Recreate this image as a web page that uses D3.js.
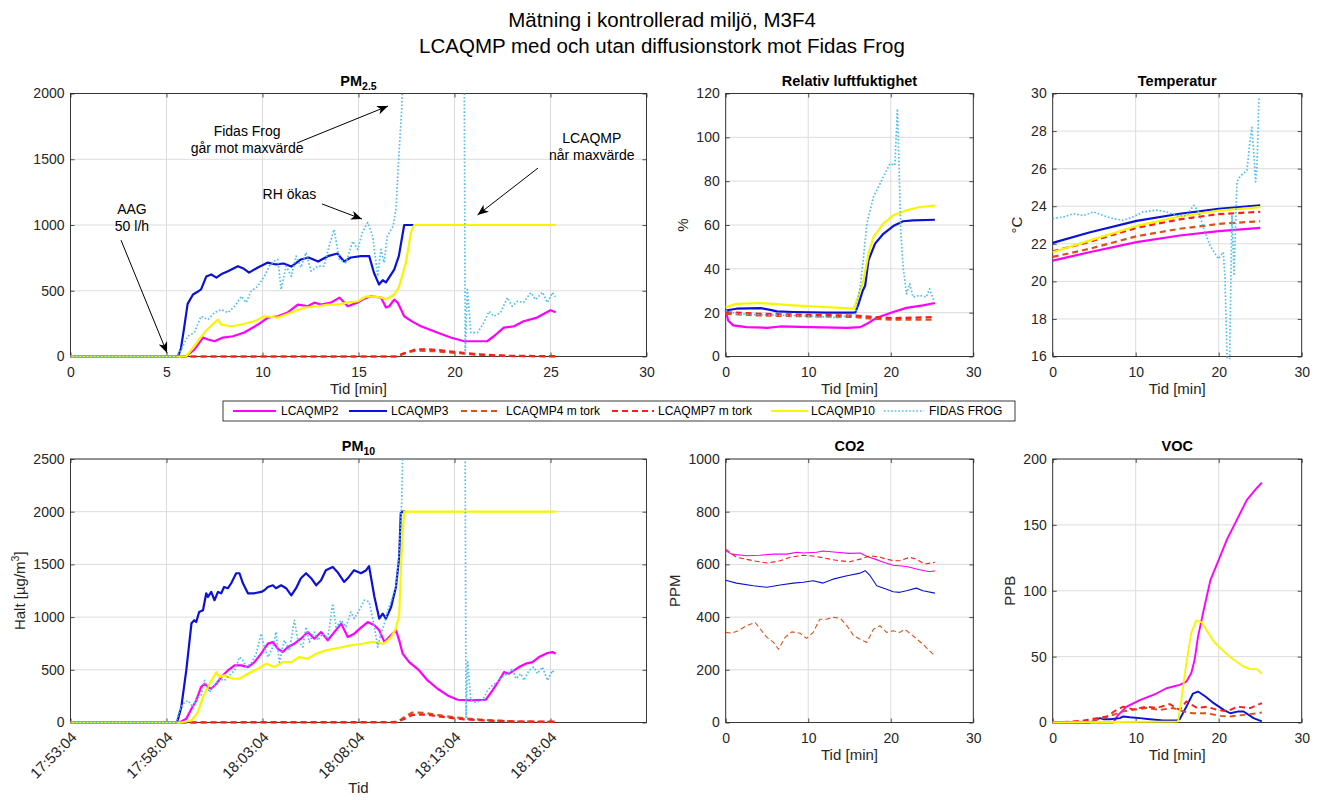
<!DOCTYPE html>
<html>
<head>
<meta charset="utf-8">
<script src="https://cdn.jsdelivr.net/npm/d3@7"></script>
<style>
  body { margin: 0; background: #fff; }
  text { font-family: "Liberation Sans", Arial, Helvetica, sans-serif; }
</style>
</head>
<body>
<svg id="fig" width="1325" height="800"></svg>
<script>
// ---- series definitions (legend order) ----
const seriesNames  = ["LCAQMP2", "LCAQMP3", "LCAQMP4 m tork", "LCAQMP7 m tork", "LCAQMP10", "FIDAS FROG"];
const seriesColors = ["#ff00ff", "#0b12d6", "#d95319", "#ff1c1c", "#f6f600", "#4dbeee"];
const seriesDash   = [null, null, "6,4", "6,4", null, "1.6,2"];

// ---- tick values ----
const minuteTicks5  = [0, 5, 10, 15, 20, 25, 30];
const minuteTicks10 = [0, 10, 20, 30];
const pm25Ticks = [0, 500, 1000, 1500, 2000];
const pm10Ticks = [0, 500, 1000, 1500, 2000, 2500];
const rhTicks   = [0, 20, 40, 60, 80, 100, 120];
const tempTicks = [16, 18, 20, 22, 24, 26, 28, 30];
const co2Ticks  = [0, 200, 400, 600, 800, 1000];
const vocTicks  = [0, 50, 100, 150, 200];
const pm10TimeTicks  = [0, 5, 10, 15, 20, 25];
const pm10TimeLabels = ["17:53:04", "17:58:04", "18:03:04", "18:08:04", "18:13:04", "18:18:04"];

// ---- PM2.5 [min, µg/m³] ----
const pm25_q2 = [[0,0],[6.0,0],[6.45,53],[6.9,144],[7.16,129],[7.5,116],[7.94,144],[8.46,154],[9.05,182],[9.76,243],[10.28,296],[10.8,306],[11.3,334],[11.84,395],[12.36,382],[12.7,410],[13.05,395],[13.57,410],[14.0,448],[14.44,382],[14.96,410],[15.3,440],[15.65,458],[16.17,448],[16.43,372],[16.6,382],[16.86,433],[17.04,410],[17.38,306],[17.8,265],[18.25,230],[19.1,182],[19.8,144],[20.5,116],[21.7,116],[22.05,154],[22.57,220],[23.1,230],[23.6,268],[24.3,296],[25.0,352],[25.27,337]];
const pm25_q3 = [[0,0],[5.6,0],[5.75,60],[5.9,200],[6.1,400],[6.38,471],[6.6,490],[6.8,510],[7.07,608],[7.33,624],[7.6,600],[7.9,630],[8.2,649],[8.72,687],[9.0,670],[9.3,638],[9.76,677],[10.28,714],[10.7,700],[11.1,707],[11.5,684],[12.0,738],[12.4,753],[12.9,722],[13.4,763],[13.9,783],[14.25,722],[14.6,753],[15.13,763],[15.56,763],[15.8,639],[16.07,547],[16.26,580],[16.43,563],[16.86,661],[17.1,763],[17.38,1000],[17.95,1000]];
const pm25_q4 = [[0,0],[17.0,0],[17.5,30],[18.0,45],[19.0,40],[20.0,28],[21.0,15],[22.0,8],[23.0,3],[25.3,0]];
const pm25_q7 = [[0,0],[17.0,0],[17.3,20],[18.0,55],[18.6,55],[19.2,48],[20.0,35],[21.0,20],[22.0,10],[23.0,5],[25.3,3]];
const pm25_q10 = [[0,0],[6.0,0],[6.1,15],[6.45,78],[6.97,182],[7.5,258],[7.67,281],[7.85,243],[8.37,230],[8.9,243],[9.57,268],[10.1,306],[10.8,296],[11.5,334],[12.17,372],[12.88,382],[13.4,395],[13.9,395],[14.44,410],[14.96,420],[15.4,456],[15.8,456],[16.2,448],[16.43,433],[16.86,471],[17.1,524],[17.47,714],[17.73,942],[17.9,1000],[25.3,1000]];
const pm25_fidas = [[0,0],[5.5,0],[5.77,53],[6.1,154],[6.45,182],[6.8,306],[7.16,281],[7.5,334],[7.85,357],[8.2,334],[8.55,382],[8.9,458],[9.15,410],[9.4,496],[9.76,534],[10.1,610],[10.35,687],[10.6,725],[10.8,738],[10.97,509],[11.23,687],[11.5,610],[11.75,763],[12.0,677],[12.27,791],[12.53,649],[12.88,687],[13.2,687],[13.47,839],[13.73,966],[14.0,738],[14.35,714],[14.7,877],[14.96,814],[15.2,943],[15.48,1019],[15.74,915],[16.0,610],[16.17,814],[16.33,714],[16.5,915],[16.8,991],[16.95,1118],[17.1,1523],[17.25,1878],[17.35,2400],[17.5,3000],[20.4,3000],[20.5,2500],[20.56,20],[20.62,300],[20.67,510],[20.85,182],[21.2,182],[21.53,258],[21.8,344],[22.05,306],[22.4,334],[22.76,448],[23.0,382],[23.28,420],[23.6,410],[23.97,486],[24.23,433],[24.58,489],[24.84,410],[25.1,486],[25.25,455]];

// ---- PM10 [min, µg/m³] ----
const pm10_q2 = [[0,0],[5.68,0],[6.03,35],[6.3,130],[6.55,209],[6.8,336],[6.98,368],[7.16,336],[7.33,320],[7.6,368],[7.85,431],[8.2,494],[8.55,542],[8.9,542],[9.24,526],[9.58,573],[9.93,653],[10.28,748],[10.54,763],[10.8,700],[11.06,668],[11.32,716],[11.66,748],[12.0,795],[12.36,858],[12.7,795],[13.05,858],[13.4,780],[13.74,858],[14.1,938],[14.44,811],[14.78,843],[15.13,900],[15.48,953],[15.83,922],[16.08,875],[16.35,763],[16.6,811],[16.95,875],[17.12,780],[17.3,653],[17.64,573],[18.16,494],[18.6,399],[19.12,320],[19.64,257],[20.16,216],[20.85,209],[21.63,216],[21.98,304],[22.32,399],[22.58,478],[22.84,463],[23.1,494],[23.36,526],[23.71,558],[24.06,573],[24.4,621],[24.84,659],[25.1,668],[25.27,653]];
const pm10_q3 = [[0,0],[5.55,0],[5.77,145],[6.03,494],[6.3,941],[6.45,970],[6.55,953],[6.7,1048],[6.9,1065],[7.07,1226],[7.16,1191],[7.33,1239],[7.5,1160],[7.68,1239],[7.85,1226],[8.0,1286],[8.2,1274],[8.37,1321],[8.63,1416],[8.8,1416],[8.98,1321],[9.24,1226],[9.57,1226],[9.93,1239],[10.1,1255],[10.28,1286],[10.54,1302],[10.7,1274],[10.97,1302],[11.23,1274],[11.5,1207],[11.75,1274],[12.0,1369],[12.27,1416],[12.53,1369],[12.8,1302],[13.05,1350],[13.3,1445],[13.66,1476],[13.9,1429],[14.25,1334],[14.5,1381],[14.77,1445],[15.13,1416],[15.4,1445],[15.55,1483],[15.83,1191],[16.08,986],[16.26,1033],[16.43,986],[16.7,1096],[16.95,1286],[17.12,1571],[17.2,1984],[17.3,2000],[17.45,2000]];
const pm10_q4 = [[0,0],[17.0,0],[17.3,40],[17.8,95],[18.5,90],[19.5,60],[20.5,40],[21.5,25],[23.0,10],[25.3,5]];
const pm10_q7 = [[0,0],[17.0,5],[17.4,35],[17.8,72],[18.5,75],[19.5,50],[20.5,30],[21.5,20],[23.0,10],[25.3,8]];
const pm10_q10 = [[0,0],[5.77,0],[6.3,19],[6.64,98],[6.9,241],[7.24,368],[7.6,478],[7.76,431],[8.02,447],[8.46,415],[8.8,415],[9.24,463],[9.76,510],[10.2,558],[10.62,526],[11.06,573],[11.5,573],[11.92,621],[12.36,605],[12.8,653],[13.3,684],[13.74,700],[14.18,716],[14.6,732],[15.13,745],[15.65,763],[15.83,763],[16.26,748],[16.43,763],[16.7,811],[16.95,891],[17.12,1017],[17.21,1476],[17.3,1794],[17.38,2000],[25.3,2000]];
const pm10_fidas = [[0,0],[5.5,0],[5.68,114],[5.86,178],[6.12,209],[6.38,145],[6.55,225],[6.8,257],[6.98,399],[7.24,288],[7.5,352],[7.76,415],[8.02,399],[8.28,447],[8.55,494],[8.8,621],[8.98,589],[9.15,526],[9.41,558],[9.67,653],[9.93,843],[10.1,716],[10.28,621],[10.54,716],[10.7,858],[10.88,573],[11.14,780],[11.4,684],[11.66,970],[11.84,780],[12.1,716],[12.27,906],[12.44,763],[12.7,858],[12.88,780],[13.14,843],[13.4,795],[13.66,1128],[13.83,906],[14.1,970],[14.35,906],[14.6,1048],[14.78,986],[15.04,1065],[15.3,1160],[15.56,1144],[15.83,906],[16.0,716],[16.17,843],[16.35,938],[16.52,1065],[16.7,1150],[16.95,1300],[17.12,1600],[17.25,2100],[17.35,3000],[20.45,3000],[20.55,2800],[20.6,50],[20.65,400],[20.68,589],[20.85,209],[21.1,193],[21.46,209],[21.72,304],[21.98,352],[22.24,383],[22.5,431],[22.76,463],[23.02,510],[23.2,415],[23.45,463],[23.62,399],[23.88,494],[24.14,526],[24.32,463],[24.58,526],[24.84,399],[25.1,494],[25.2,463]];

// ---- relative humidity [min, %] ----
const rh_q2 = [[0,21],[0.3,16.4],[0.9,14.2],[2.5,13.4],[5,13.1],[6.6,13.7],[10.2,13.4],[14.7,13.1],[16.3,13.4],[17.1,14.9],[18.3,17.7],[20.3,20.3],[21.9,22.2],[23.9,23.3],[25.35,24.4]];
const rh_q3 = [[0,21],[1.3,21.8],[4.2,22.1],[5.4,21.3],[6.2,20.6],[8.2,20.3],[12.2,20],[15.7,20],[16.1,24],[16.6,30],[16.9,32.4],[17.3,43.9],[18.1,51.5],[19.1,56],[20.3,59.5],[21.5,61.7],[22.7,62.1],[25.35,62.4]];
const rh_q4 = [[0,19.5],[4.2,18.7],[10.2,18.3],[15.5,18],[17.9,17.2],[20.3,16.8],[25.2,16.8]];
const rh_q7 = [[0,20.3],[4.2,19.5],[10.2,19],[15.5,18.7],[17.9,18],[20.3,17.5],[25.2,18]];
const rh_q10 = [[0,22.5],[1.3,24],[4.2,24.4],[8.2,23.3],[12.2,22.5],[15.5,21.8],[15.9,25.6],[16.7,34.7],[17.3,46.9],[17.9,54.5],[19.1,60.6],[20.3,64.4],[21.9,66.7],[23.5,68.2],[25.35,68.8]];
const rh_fidas = [[0,21],[1.3,19.5],[4.2,19],[8.2,18.7],[12.2,18],[13.8,17.7],[15.7,19.5],[16.3,31.7],[16.7,45.4],[17.1,60.6],[17.9,72.8],[19.1,81.9],[19.9,88],[20.5,87.3],[20.8,113],[21.0,88],[21.2,57.6],[21.5,40.8],[21.9,28.6],[22.3,33.2],[22.7,27.1],[23.5,27.9],[24.3,27.1],[24.7,30.9],[25.2,25.6]];

// ---- temperature [min, °C] ----
const temp_q2 = [[0,21.1],[4.4,21.55],[10.1,22.09],[15.3,22.44],[20,22.67],[25,22.85]];
const temp_q3 = [[0,22.05],[4.4,22.6],[10.1,23.22],[15.3,23.6],[20,23.86],[25,24.05]];
const temp_q4 = [[0,21.3],[4.4,21.73],[10.1,22.4],[15.3,22.8],[20,23.06],[25,23.2]];
const temp_q7 = [[0,21.6],[4.4,22.1],[10.1,22.85],[15.3,23.3],[20,23.58],[25,23.7]];
const temp_q10 = [[0,21.55],[4.4,22.17],[10.1,22.95],[15.3,23.45],[20,23.77],[25,23.95]];
const temp_fidas = [[0,23.34],[1.3,23.43],[2.5,23.6],[3.7,23.5],[4.9,23.7],[6.1,23.5],[7.3,23.34],[8.5,23.25],[9.7,23.43],[10.9,23.7],[12.5,23.79],[13.7,23.7],[14.9,23.5],[16.1,23.5],[17.0,24.05],[17.6,23.7],[18.2,22.8],[18.95,21.9],[19.96,21.2],[20.56,21.55],[20.76,20.1],[21.04,15.5],[21.3,15.5],[21.6,23.6],[21.85,20.3],[22.2,25.3],[22.6,25.6],[23.4,25.9],[23.8,27.6],[24.0,28.2],[24.2,27.0],[24.45,25.3],[24.6,26.0],[24.85,29.8]];

// ---- CO2 [min, ppm] ----
const co2_q2 = [[0,652],[0.7,639],[2.5,633],[4.2,635],[5.8,639],[7.4,639],[8.6,646],[9.4,643],[11,646],[11.8,651],[13.4,646],[15,642],[16.3,643],[17.1,630],[18.1,620],[19.1,608],[20.3,597],[21.9,592],[23.5,580],[24.7,572],[25.35,576]];
const co2_q3 = [[0,540],[1.3,529],[3.35,519],[5,513],[6.6,522],[8.2,529],[9.4,532],[10.6,538],[11.8,529],[13,544],[14.7,557],[16.3,567],[16.9,576],[17.5,557],[18.3,519],[19.5,506],[20.3,496],[21.1,494],[21.9,500],[23.1,510],[23.9,500],[25.35,491]];
const co2_q4 = [[0,342],[0.7,339],[1.5,348],[2.5,367],[3.55,380],[4.2,354],[5,323],[5.8,304],[6.4,278],[7.2,323],[8,344],[9,339],[9.8,319],[10.6,342],[11.4,392],[12.2,392],[13,399],[13.9,395],[14.7,367],[15.5,329],[16.3,316],[17.1,304],[17.9,354],[18.7,367],[19.5,342],[20.3,348],[21.1,342],[21.7,354],[22.7,329],[23.9,297],[24.7,272],[25.35,253]];
const co2_q7 = [[0,658],[1.3,627],[3.35,614],[5,605],[6.6,614],[7.8,627],[9.4,635],[11,630],[12.6,620],[13.8,614],[15,610],[16.3,620],[17.5,633],[18.7,627],[19.5,620],[20.3,614],[21.1,614],[22.3,627],[23.1,620],[24.1,601],[25.35,608]];

// ---- VOC [min, ppb] ----
const voc_q2 = [[0,0],[7.3,0],[7.9,5.8],[8.9,12],[10.5,17],[12.5,22],[13.7,26],[15.3,28.6],[16.1,31],[16.7,37.5],[17.1,47.6],[17.5,65],[18.2,85.6],[19.0,108],[20,123.5],[21,139],[22.2,154],[23.4,169],[24.6,178],[25.2,182]];
const voc_q3 = [[0,0],[4.5,0],[5.7,3.3],[6.1,2.5],[6.9,2.5],[8.1,3.3],[8.5,4.6],[9.3,4],[10.5,3.3],[11.7,2.5],[13.3,1.5],[14.9,1.5],[15.3,2.5],[16.1,12],[16.9,22],[17.5,23.5],[18.4,19.7],[19.4,14.7],[20.6,9.6],[21.4,7],[22.4,8.4],[23.0,8.4],[24.2,3.3],[25.2,0.8]];
const voc_q4 = [[0,0],[3.7,0.8],[5.7,2.5],[7.3,5.8],[8.5,8.4],[9.7,9.6],[11.3,11],[12.9,9.6],[14.5,11],[15.7,8.4],[16.9,7],[18.6,7],[20.2,5],[21.4,4.6],[23,5.8],[24.6,7],[25.2,7.6]];
const voc_q7 = [[0,0],[2.5,0.8],[3.7,1.5],[5.3,3.3],[6.5,4.6],[7.7,9.6],[8.5,12],[9.7,10],[11.3,12],[12.5,11],[14.1,14],[15.3,9.6],[16.1,16],[17.4,11],[18.6,12],[19.8,9.6],[21,8.4],[22.2,12],[23.8,11],[25.2,14.7]];
const voc_q10 = [[0,0],[15.1,0.8],[15.5,17],[16.1,45],[16.7,68],[17.3,77.5],[17.95,76],[18.55,70],[19.4,61.5],[20.6,54],[21.8,47.6],[23.0,42.5],[23.8,40.5],[24.6,40.5],[25.2,37]];

// ---- PM2.5 annotations (data coordinates) ----
const pm25Notes = [
  { lines: ["AAG", "50 l/h"], at: [3.2, 1122], from: [2.63, 885], to: [5.03, 27] },
  { lines: ["Fidas Frog", "går mot maxvärde"], at: [9.2, 1715], from: [11.8, 1624], to: [16.54, 1905] },
  { lines: ["RH ökas"], at: [11.4, 1236], from: [13.1, 1160], to: [15.18, 1045] },
  { lines: ["LCAQMP", "når maxvärde"], at: [27.15, 1662], from: [24.35, 1433], to: [21.2, 1076] }
];

const svg = d3.select("#fig");
const AX = "#262626";
const TICK_FONT = 14;

svg.append("defs").append("marker")
  .attr("id", "arrowhead").attr("markerUnits", "userSpaceOnUse")
  .attr("markerWidth", 12).attr("markerHeight", 9)
  .attr("refX", 11).attr("refY", 4.5).attr("orient", "auto")
  .append("path").attr("d", "M0,0 L11,4.5 L0,9 L3,4.5 Z").attr("fill", "#000");

// main title
svg.append("text").attr("x", 662).attr("y", 27).attr("text-anchor", "middle")
  .attr("font-size", 20.5).attr("fill", "#000").text("Mätning i kontrollerad miljö, M3F4");
svg.append("text").attr("x", 662).attr("y", 53).attr("text-anchor", "middle")
  .attr("font-size", 20.5).attr("fill", "#000").text("LCAQMP med och utan diffusionstork mot Fidas Frog");

function drawPanel(p) {
  const g = svg.append("g");
  const x = d3.scaleLinear().domain(p.xDomain).range([p.left, p.right]);
  const y = d3.scaleLinear().domain(p.yDomain).range([p.bottom, p.top]);

  // grid
  g.append("g").selectAll("line").data(p.xTicks).join("line")
    .attr("x1", d => x(d)).attr("x2", d => x(d)).attr("y1", p.top).attr("y2", p.bottom)
    .attr("stroke", "#dcdcdc").attr("stroke-width", 1);
  g.append("g").selectAll("line").data(p.yTicks).join("line")
    .attr("y1", d => y(d)).attr("y2", d => y(d)).attr("x1", p.left).attr("x2", p.right)
    .attr("stroke", "#dcdcdc").attr("stroke-width", 1);

  // axes (drawn below the data lines)
  const fmt = p.xFormat || (d => String(d));
  const xb = d3.axisBottom(x).tickValues(p.xTickValues || p.xTicks).tickSizeInner(-4).tickSizeOuter(0).tickPadding(11).tickFormat(fmt);
  const xa = g.append("g").attr("transform", `translate(0,${p.bottom})`).call(xb);
  const xt = g.append("g").attr("transform", `translate(0,${p.top})`)
    .call(d3.axisTop(x).tickValues(p.xTickValues || p.xTicks).tickSizeInner(-4).tickSizeOuter(0).tickFormat(""));
  const ya = g.append("g").attr("transform", `translate(${p.left},0)`)
    .call(d3.axisLeft(y).tickValues(p.yTicks).tickSizeInner(-4).tickSizeOuter(0).tickPadding(6).tickFormat(d => String(d)));
  const yr = g.append("g").attr("transform", `translate(${p.right},0)`)
    .call(d3.axisRight(y).tickValues(p.yTicks).tickSizeInner(-4).tickSizeOuter(0).tickFormat(""));
  [xa, xt, ya, yr].forEach(a => {
    a.select(".domain").remove();
    a.selectAll(".tick line").attr("stroke", AX).attr("stroke-width", 0.8);
    a.selectAll("text").attr("font-size", TICK_FONT).attr("fill", AX).attr("font-family", null);
  });
  if (p.rotateX) {
    xa.selectAll(".tick text")
      .attr("font-size", 15)
      .attr("text-anchor", "end").attr("dy", "0.35em").attr("y", 0)
      .attr("transform", "translate(3,12) rotate(-45)");
  }

  // box
  g.append("rect").attr("x", p.left).attr("y", p.top)
    .attr("width", p.right - p.left).attr("height", p.bottom - p.top)
    .attr("fill", "none").attr("stroke", AX).attr("stroke-width", 0.9);

  // clip: top edge is cut, lines lying on the zero axis stay fully visible
  const clipId = "clip-" + p.id;
  svg.append("clipPath").attr("id", clipId).append("rect")
    .attr("x", p.left - 2).attr("y", p.top).attr("width", p.right - p.left + 4).attr("height", p.bottom - p.top + 3);

  const line = d3.line().x(d => x(d[0])).y(d => y(d[1]));
  const lines = g.append("g").attr("clip-path", `url(#${clipId})`);
  p.series.forEach(([si, data]) => {
    const dashed = seriesDash[si] !== null;
    lines.append("path").attr("d", line(data)).attr("fill", "none")
      .attr("stroke", seriesColors[si])
      .attr("stroke-width", si === 5 ? p.dotWidth : p.lineWidth)
      .attr("stroke-dasharray", dashed ? (si === 5 ? "1.6,2" : p.dash) : null)
      .attr("stroke-linejoin", "round");
  });

  // title
  const cx = (p.left + p.right) / 2;
  const tt = g.append("text").attr("x", cx).attr("y", p.top - 8).attr("text-anchor", "middle")
    .attr("font-size", 14.5).attr("font-weight", "bold").attr("fill", "#000");
  tt.append("tspan").text(p.title);
  if (p.titleSub) tt.append("tspan").attr("dy", 4).attr("font-size", 10.5).text(p.titleSub);

  // x label
  g.append("text").attr("x", cx).attr("y", p.bottom + p.xLabelOffset).attr("text-anchor", "middle")
    .attr("font-size", 15).attr("fill", AX).text(p.xLabel);

  // y label
  const yl = g.append("text")
    .attr("transform", `translate(${p.left - p.yLabelOffset},${(p.top + p.bottom) / 2}) rotate(-90)`)
    .attr("text-anchor", "middle").attr("font-size", 15).attr("fill", AX);
  yl.append("tspan").text(p.yLabel);
  if (p.yLabelSup) {
    yl.append("tspan").attr("dy", -6).attr("font-size", 10.5).text(p.yLabelSup);
    yl.append("tspan").attr("dy", 6).text(p.yLabelTail);
  }
  return { x, y, g };
}

const top1 = 93.5, bot1 = 356.5, top2 = 459, bot2 = 722.5;
const c1 = [70.5, 646.5], c2 = [725.7, 973.3], c3 = [1052.7, 1301.7];

const pm25 = drawPanel({
  id: "pm25", left: c1[0], right: c1[1], top: top1, bottom: bot1,
  xDomain: [0, 30], yDomain: [0, 2000], xTicks: minuteTicks5, yTicks: pm25Ticks,
  title: "PM", titleSub: "2.5", xLabel: "Tid [min]", xLabelOffset: 37, yLabel: "", yLabelOffset: 0,
  lineWidth: 2.2, dotWidth: 1.7, dash: "6,4",
  series: [[0, pm25_q2], [1, pm25_q3], [2, pm25_q4], [3, pm25_q7], [4, pm25_q10], [5, pm25_fidas]]
});

drawPanel({
  id: "rh", left: c2[0], right: c2[1], top: top1, bottom: bot1,
  xDomain: [0, 30], yDomain: [0, 120], xTicks: minuteTicks10, yTicks: rhTicks,
  title: "Relativ luftfuktighet", xLabel: "Tid [min]", xLabelOffset: 37, yLabel: "%", yLabelOffset: 38,
  lineWidth: 2.2, dotWidth: 1.7, dash: "6,4",
  series: [[0, rh_q2], [1, rh_q3], [2, rh_q4], [3, rh_q7], [4, rh_q10], [5, rh_fidas]]
});

drawPanel({
  id: "temp", left: c3[0], right: c3[1], top: top1, bottom: bot1,
  xDomain: [0, 30], yDomain: [16, 30], xTicks: minuteTicks10, yTicks: tempTicks,
  title: "Temperatur", xLabel: "Tid [min]", xLabelOffset: 37, yLabel: "°C", yLabelOffset: 31,
  lineWidth: 2.2, dotWidth: 1.7, dash: "6,4",
  series: [[0, temp_q2], [1, temp_q3], [2, temp_q4], [3, temp_q7], [4, temp_q10], [5, temp_fidas]]
});

drawPanel({
  id: "pm10", left: c1[0], right: c1[1], top: top2, bottom: bot2,
  xDomain: [0, 30], yDomain: [0, 2500], xTicks: pm10TimeTicks, yTicks: pm10Ticks,
  xFormat: d => pm10TimeLabels[pm10TimeTicks.indexOf(d)], rotateX: true,
  title: "PM", titleSub: "10", xLabel: "Tid", xLabelOffset: 70,
  yLabel: "Halt [µg/m", yLabelSup: "3", yLabelTail: "]", yLabelOffset: 46,
  lineWidth: 2.2, dotWidth: 1.7, dash: "6,4",
  series: [[0, pm10_q2], [1, pm10_q3], [2, pm10_q4], [3, pm10_q7], [4, pm10_q10], [5, pm10_fidas]]
});

drawPanel({
  id: "co2", left: c2[0], right: c2[1], top: top2, bottom: bot2,
  xDomain: [0, 30], yDomain: [0, 1000], xTicks: minuteTicks10, yTicks: co2Ticks,
  title: "CO2", xLabel: "Tid [min]", xLabelOffset: 37, yLabel: "PPM", yLabelOffset: 46,
  lineWidth: 1.1, dotWidth: 1.1, dash: "5,3",
  series: [[0, co2_q2], [1, co2_q3], [2, co2_q4], [3, co2_q7]]
});

drawPanel({
  id: "voc", left: c3[0], right: c3[1], top: top2, bottom: bot2,
  xDomain: [0, 30], yDomain: [0, 200], xTicks: minuteTicks10, yTicks: vocTicks,
  title: "VOC", xLabel: "Tid [min]", xLabelOffset: 37, yLabel: "PPB", yLabelOffset: 38,
  lineWidth: 1.9, dotWidth: 1.5, dash: "6,4",
  series: [[0, voc_q2], [1, voc_q3], [2, voc_q4], [3, voc_q7], [4, voc_q10]]
});

// annotations on the PM2.5 panel
const ann = pm25.g.append("g");
pm25Notes.forEach(n => {
  n.lines.forEach((s, i) => {
    ann.append("text").attr("x", pm25.x(n.at[0])).attr("y", pm25.y(n.at[1]) + i * 17)
      .attr("dy", "0.35em").attr("text-anchor", "middle").attr("font-size", 14)
      .attr("fill", "#000").text(s);
  });
  ann.append("line")
    .attr("x1", pm25.x(n.from[0])).attr("y1", pm25.y(n.from[1]))
    .attr("x2", pm25.x(n.to[0])).attr("y2", pm25.y(n.to[1]))
    .attr("stroke", "#000").attr("stroke-width", 1).attr("marker-end", "url(#arrowhead)");
});

// legend
const legendBox = { x: 223, y: 401, w: 792, h: 20 };
const legendItems = [[233, 276, 281], [349, 387, 391], [461, 501, 506], [612, 654, 658], [771, 808, 811], [884, 924, 929]];
const lg = svg.append("g");
lg.append("rect").attr("x", legendBox.x).attr("y", legendBox.y).attr("width", legendBox.w).attr("height", legendBox.h)
  .attr("fill", "#fff").attr("stroke", AX).attr("stroke-width", 0.9);
seriesNames.forEach((name, i) => {
  const [a, b, t] = legendItems[i];
  const cy = legendBox.y + legendBox.h / 2;
  lg.append("line").attr("x1", a).attr("x2", b).attr("y1", cy).attr("y2", cy)
    .attr("stroke", seriesColors[i]).attr("stroke-width", i === 5 ? 1.6 : 2)
    .attr("stroke-dasharray", seriesDash[i]);
  lg.append("text").attr("x", t).attr("y", cy).attr("dy", "0.35em").attr("font-size", 12)
    .attr("fill", "#000").text(name);
});
</script>
</body>
</html>
